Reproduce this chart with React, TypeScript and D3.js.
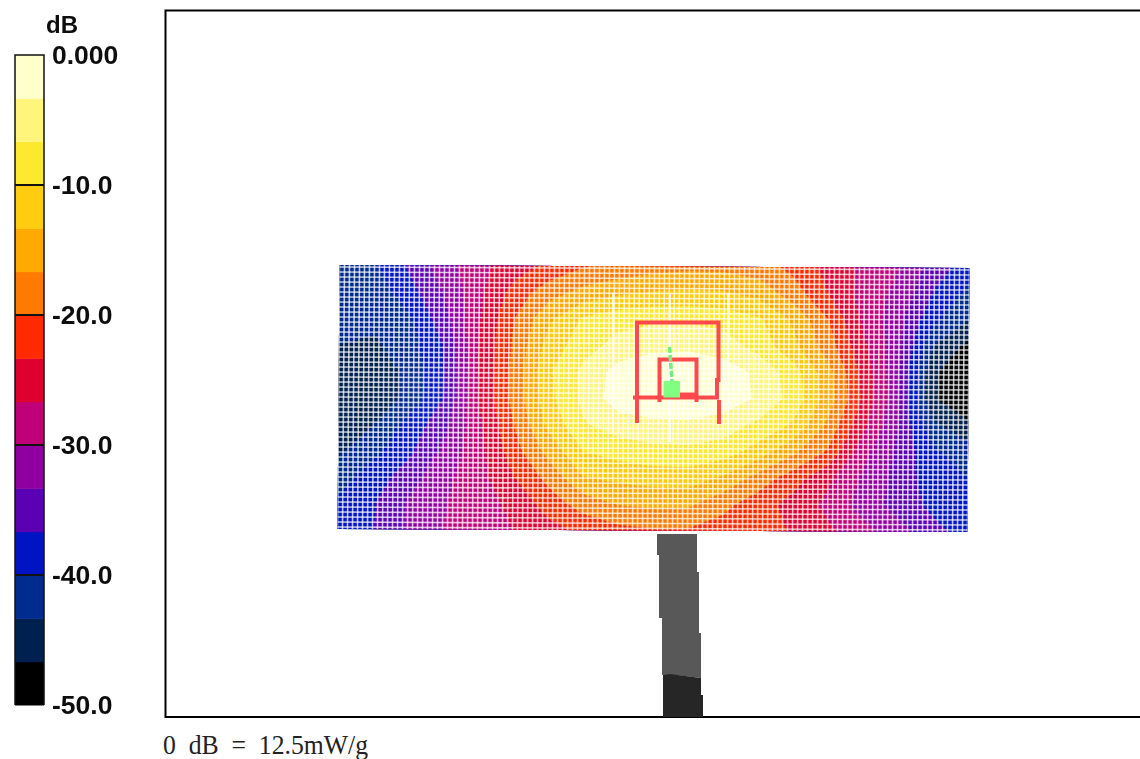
import { useEffect, useRef } from 'react';
import * as d3 from 'd3';

// legend
const bandColors = ['#000000', '#00204f', '#002c90', '#0014c4', '#5c00b4', '#9000a0', '#c00078', '#e00030',
  '#ff2a00', '#ff7a00', '#ffaa00', '#ffcc10', '#ffe830', '#fff47c', '#ffffcc'];
const legendTicks = [0, -10, -20, -30, -40, -50];
const legendLabels = ['0.000', '-10.0', '-20.0', '-30.0', '-40.0', '-50.0'];

// dB, one list per scan row, top to bottom
const row0 = [-42, -40.5, -36, -31.5, -27.5, -25, -22.5, -20.2, -19, -18, -17.5, -17.6, -18.5, -21, -24.5, -27.5, -30, -35, -38.5];
const row1 = [-42.5, -42, -38, -33, -27.5, -22, -18, -15.5, -14, -13, -12.7, -13, -14.5, -18.5, -23.5, -28, -31, -37, -41];
const row2 = [-43, -42.5, -40.5, -34.5, -27, -20, -14, -9.5, -7.8, -7.2, -7.2, -7.8, -9.5, -14, -20, -27.5, -32.5, -39.5, -43.5];
const row3 = [-43.3, -43.8, -41.5, -36.5, -26.5, -19.5, -12, -8, -5.5, -4.2, -4, -5, -8, -12.5, -18.5, -26, -32.5, -43.5, -47.8];
const row4 = [-45, -45.5, -42.5, -36.7, -26.5, -19, -10.5, -5.8, -2, -1, -0.8, -1.6, -4, -8.5, -15.5, -24.5, -33, -46.3, -49.5];
const row5 = [-45.7, -45.5, -42.5, -36.7, -26.5, -19, -11, -5.8, -1.5, -0.8, -0.6, -1.4, -3.8, -8, -15, -24, -33, -46.3, -49.5];
const row6 = [-45, -43.5, -39, -34.5, -27.5, -20, -12.5, -7, -5, -4.2, -4, -5, -7.5, -10.5, -17.5, -26, -33.5, -42.5, -45.8];
const row7 = [-44, -41, -37.5, -32.5, -28, -21.5, -15.5, -10, -8.5, -7.7, -7.5, -8.3, -11.5, -16, -20.5, -29, -34, -39.5, -41.5];
const row8 = [-41.5, -38.5, -35, -31, -28, -23.5, -19, -13.5, -12.5, -11.8, -11.7, -13.8, -18, -21.8, -26, -30.5, -34.5, -38.5, -40];
const row9 = [-39.5, -37, -33, -30.3, -28, -26, -21.8, -18.5, -16.5, -16, -16, -19, -21.8, -24.5, -27.5, -31.5, -34.5, -37.5, -39];
const row10 = [-38.5, -36.8, -33, -30, -28, -26.7, -24.5, -22.5, -21, -20.3, -20.3, -21.5, -22.5, -23.5, -26, -28.8, -32, -35.5, -38];
const scanRows = [row0, row1, row2, row3, row4, row5, row6, row7, row8, row9, row10];

const App = () => {
  const chartRef = useRef<SVGSVGElement>(null);

  useEffect(() => {
    if (!chartRef.current) return;
    const svg = d3.select(chartRef.current);
    svg.selectAll('*').remove();

    const defs = svg.append('defs');
    defs.append('filter')
      .attr('id', 'soft')
      .append('feGaussianBlur')
      .attr('stdDeviation', 0.6);
    defs.append('filter')
      .attr('id', 'soft-text')
      .append('feGaussianBlur')
      .attr('stdDeviation', 0.3);

    // Plot frame, open on the right
    svg.append('path')
      .attr('d', 'M1140,10.5H165.5V717H1140')
      .attr('fill', 'none')
      .attr('stroke', '#000')
      .attr('stroke-width', 2);

    // Legend
    const legendY = d3.scaleLinear().domain([0, -50]).range([55, 705]);
    const bandStep = 50 / bandColors.length;
    const legend = svg.append('g');
    legend.selectAll('rect')
      .data(bandColors)
      .enter()
      .append('rect')
      .attr('x', 15)
      .attr('width', 29)
      .attr('y', (_, i) => legendY(-50 + (i + 1) * bandStep))
      .attr('height', legendY(-50) - legendY(-50 + bandStep) + 0.5)
      .attr('fill', d => d);
    legend.append('path')
      .attr('d', `M15,${legendY(-50)}V55H44V${legendY(-50)}`)
      .attr('fill', 'none')
      .attr('stroke', '#111')
      .attr('stroke-width', 1.5);
    legend.selectAll('line')
      .data(legendTicks.slice(1, -1))
      .enter()
      .append('line')
      .attr('x1', 15)
      .attr('x2', 44)
      .attr('y1', d => legendY(d))
      .attr('y2', d => legendY(d))
      .attr('stroke', '#111')
      .attr('stroke-width', 2);
    const labels = legend.append('g')
      .attr('filter', 'url(#soft-text)')
      .attr('font-family', '"Liberation Sans", sans-serif')
      .attr('font-weight', 700)
      .attr('fill', '#111');
    labels.selectAll('text.tick')
      .data(legendTicks)
      .enter()
      .append('text')
      .attr('class', 'tick')
      .attr('x', 52)
      .attr('y', d => legendY(d) + 9)
      .attr('font-size', 26.5)
      .text((_, i) => legendLabels[i]);
    labels.append('text')
      .attr('x', 46)
      .attr('y', 33)
      .attr('font-size', 24)
      .text('dB');

    // Field: filled contours over the scan rows
    const nCols = scanRows[0].length;
    const nRows = scanRows.length;
    const x = d3.scaleLinear().domain([0.5, nCols - 0.5]).range([338, 968]);
    const y = d3.scaleLinear().domain([0.5, nRows - 0.5]).range([265, 529]);
    const warp = (px: number, py: number): [number, number] => [
      px + (2 * (529 - py)) / 264 - 0.5,
      py + ((px - 338) * 3) / 630,
    ];
    const projection = d3.geoTransform({
      point(cx, cy) {
        const [px, py] = warp(x(cx), y(cy));
        this.stream.point(px, py);
      },
    });
    const path = d3.geoPath(projection);
    const thresholds = bandColors.map((_, i) => -50 + i * bandStep);
    const contours = d3.contours()
      .size([nCols, nRows])
      .thresholds(thresholds)(scanRows.flat());

    defs.append('clipPath')
      .attr('id', 'field-clip')
      .append('polygon')
      .attr('points', [[338, 265], [968, 265], [968, 529], [338, 529]].map(p => warp(p[0], p[1]).join(',')).join(' '));

    const field = svg.append('g').attr('filter', 'url(#soft)')
      .append('g').attr('clip-path', 'url(#field-clip)');
    field.selectAll('path.band')
      .data(contours)
      .enter()
      .append('path')
      .attr('class', 'band')
      .attr('d', d => path(d))
      .attr('fill', (_, i) => bandColors[i]);

    // Measurement mesh
    const meshLine = d3.line<[number, number]>().x(d => warp(d[0], d[1])[0]).y(d => warp(d[0], d[1])[1]);
    const mesh = field.append('g')
      .attr('stroke', '#fff')
      .attr('fill', 'none')
      .attr('stroke-opacity', 0.74)
      .attr('stroke-width', 1.6);
    d3.range(338, 972, 5).forEach(px => {
      mesh.append('path').attr('d', meshLine([[px, 262], [px, 532]]));
    });
    d3.range(267, 532, 5).forEach(py => {
      mesh.append('path').attr('d', meshLine([[335, py], [972, py]]));
    });
    const seams = field.append('g').attr('stroke', '#fff').attr('stroke-opacity', 0.9).attr('stroke-width', 1.8);
    [[613, 293, 432], [670, 293, 442], [728, 293, 442]].forEach(([sx, y0, y1]) => {
      seams.append('line').attr('x1', sx).attr('x2', sx).attr('y1', y0).attr('y2', y1);
    });

    const overlay = svg.append('g').attr('filter', 'url(#soft-text)');

    // Feed and cable
    overlay.append('path')
      .attr('d', 'M657,534H697V572L699,572V633L701,633V678L675,675H662V618L659,618V555L657,555Z')
      .attr('fill', '#585858');
    overlay.append('path')
      .attr('d', 'M663,675L670,674L701,678V695L703,695V717H663Z')
      .attr('fill', '#282828');

    // Dipole outline
    const red = overlay.append('g').attr('fill', 'none').attr('stroke', '#ff4a50').attr('stroke-width', 4);
    red.append('path').attr('d', 'M637,423V322.5H718.5V380H717V398');
    red.append('path').attr('d', 'M633,397.5H719M719,400V424');
    red.append('path').attr('d', 'M659.5,402V359.5H696.5V402');
    red.append('path').attr('d', 'M678,395H696').attr('stroke-width', 5);

    // Peak marker
    overlay.append('path')
      .attr('d', 'M669.5,347L672,381')
      .attr('fill', 'none')
      .attr('stroke', '#70ee80')
      .attr('stroke-width', 3.5)
      .attr('stroke-dasharray', '6 2');
    overlay.append('rect')
      .attr('x', 663.5)
      .attr('y', 381)
      .attr('width', 16.5)
      .attr('height', 16.5)
      .attr('fill', '#80ff80');

    // Reference level
    svg.append('text')
      .attr('x', 163)
      .attr('y', 754)
      .attr('font-family', '"Liberation Serif", serif')
      .attr('font-size', 28)
      .attr('word-spacing', 7)
      .attr('fill', '#222')
      .attr('textLength', 205)
      .attr('lengthAdjust', 'spacingAndGlyphs')
      .text('0 dB = 12.5mW/g');
  }, []);

  return (
    <svg
      ref={chartRef}
      width={1140}
      height={759}
      style={{ position: 'absolute', left: 0, top: 0, background: '#fff' }}
    />
  );
};

export default App;
